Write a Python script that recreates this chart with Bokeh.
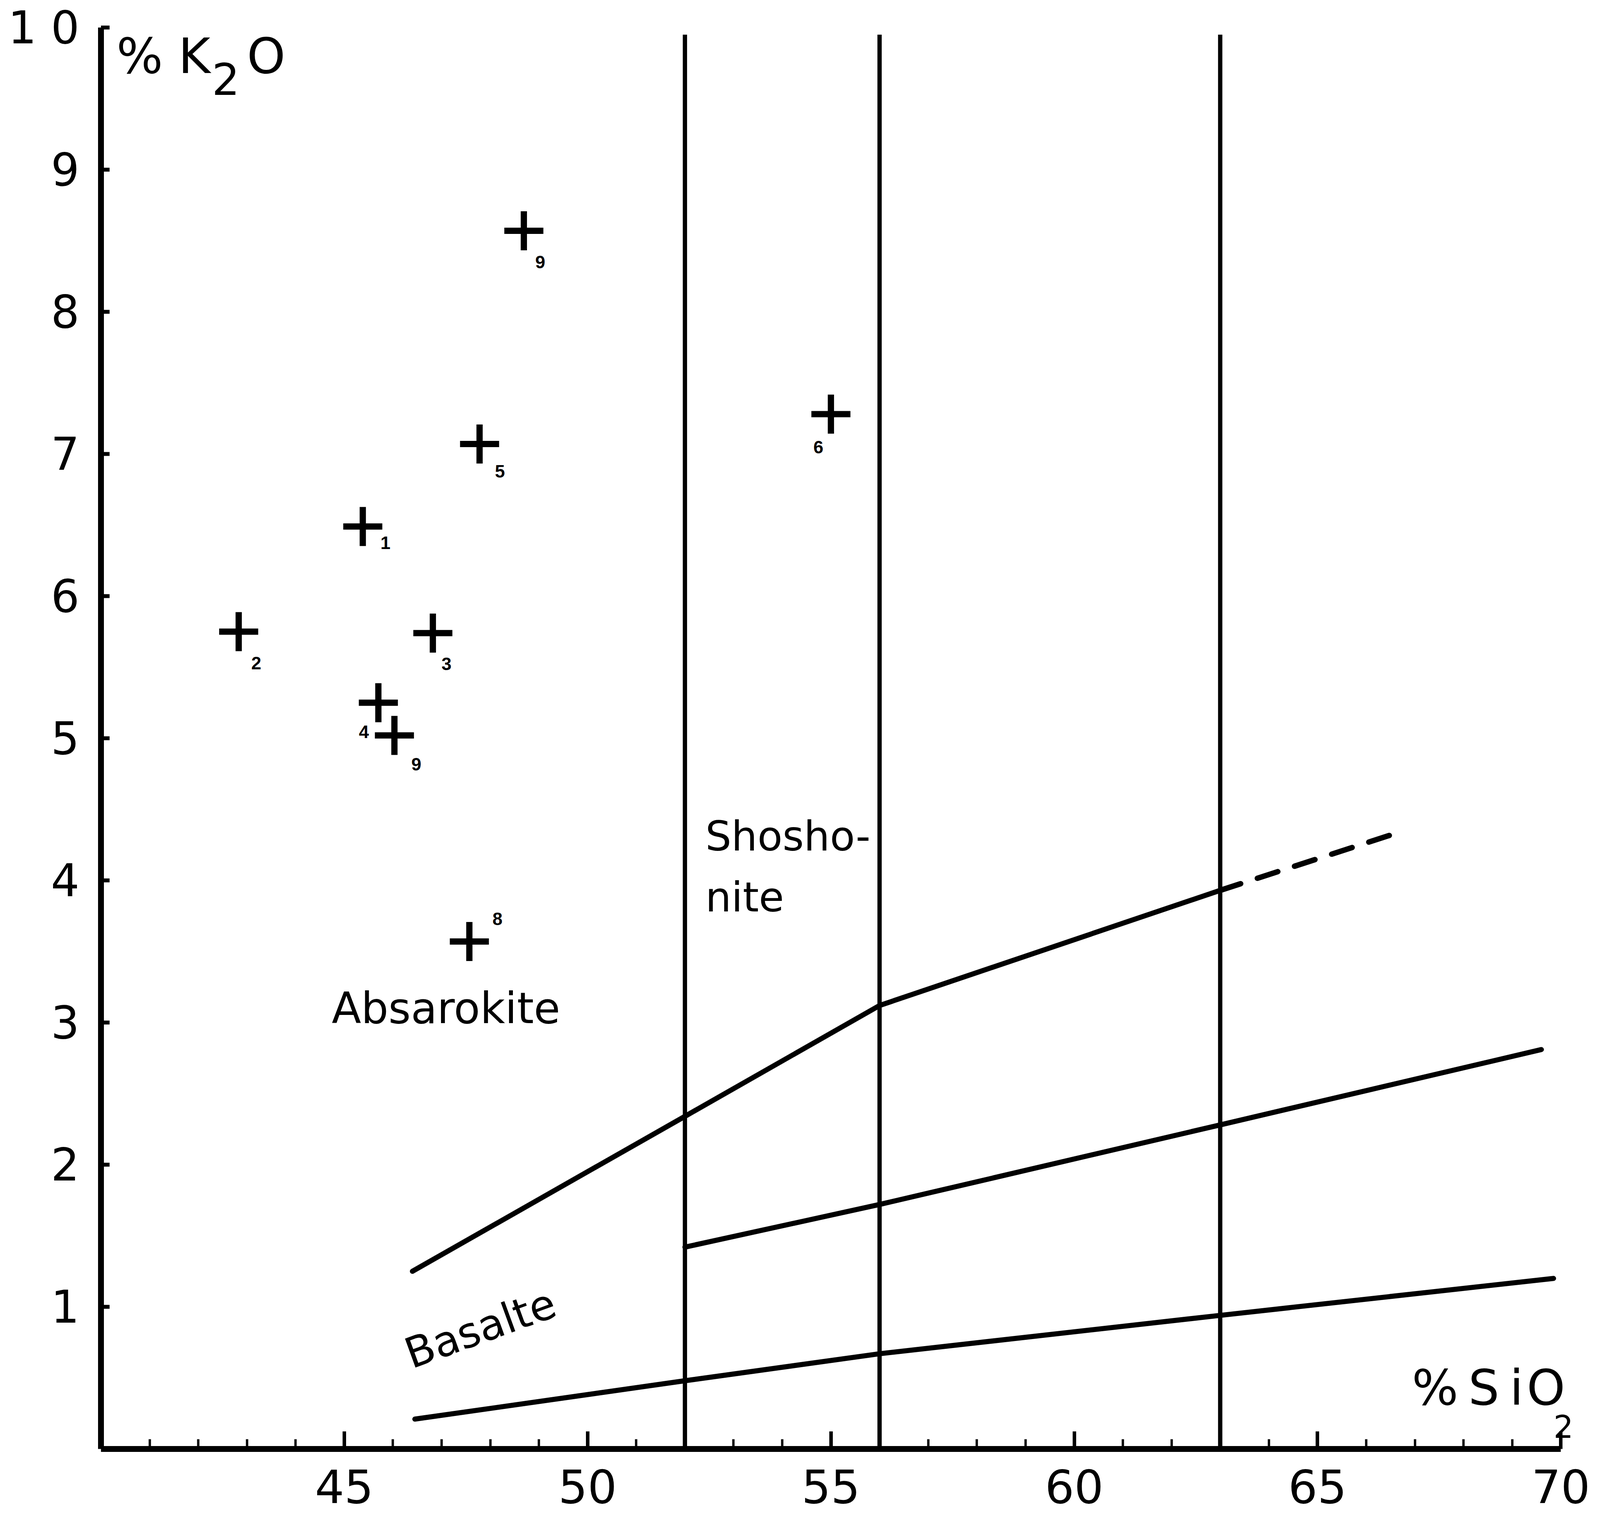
from bokeh.plotting import figure
from bokeh.models import Range1d, FixedTicker, Label, ColumnDataSource
from bokeh.embed import file_html
from bokeh.resources import INLINE
from math import pi

# ---------------- data ----------------
x_ticks = [45, 50, 55, 60, 65, 70]
x_minor = [41, 42, 43, 44, 46, 47, 48, 49, 51, 52, 53, 54, 56, 57, 58, 59,
           61, 62, 63, 64, 66, 67, 68, 69]
y_ticks = [1, 2, 3, 4, 5, 6, 7, 8, 9, 10]

point_labels = ["1", "2", "3", "4", "5", "6", "8", "9", "9"]
point_sio2 = [45.38, 42.83, 46.82, 45.70, 47.78, 55.00, 47.57, 46.03, 48.69]
point_k2o = [6.49, 5.75, 5.74, 5.25, 7.07, 7.28, 3.57, 5.02, 8.57]

# boundary lines of the diagram
upper_sio2 = [46.4, 52.0, 56.0, 63.0]
upper_k2o = [1.25, 2.34, 3.12, 3.93]
upper_dash_sio2 = [63.0, 66.6]
upper_dash_k2o = [3.93, 4.33]
middle_sio2 = [52.0, 56.0, 63.0, 69.6]
middle_k2o = [1.42, 1.72, 2.28, 2.81]
lower_sio2 = [46.45, 52.0, 56.0, 63.0, 69.85]
lower_k2o = [0.21, 0.48, 0.67, 0.94, 1.20]
vertical_sio2 = [52.0, 56.0, 63.0]
vertical_top = 9.95

# label offsets of the sample numbers (screen px, styling)
label_dx = [58, 45, 35, -37, 52, -32, 72, 56, 42]
label_dy = [42, 80, 79, 74, 70, 84, -58, 74, 80]

FONT = "DejaVu Sans"

p = figure(width=4080, height=3900,
           x_range=Range1d(40, 70.6), y_range=Range1d(0, 10),
           output_backend="svg", toolbar_location=None,
           min_border_left=258, min_border_right=10,
           min_border_top=70, min_border_bottom=190)
p.background_fill_color = "white"
p.border_fill_color = "white"
p.outline_line_color = None
p.xgrid.visible = False
p.ygrid.visible = False

# x axis (line stops at 70 like the original)
p.xaxis.bounds = (40, 70)
p.xaxis.ticker = FixedTicker(ticks=x_ticks, minor_ticks=x_minor)
p.xaxis.axis_line_width = 15
p.xaxis.axis_line_color = "black"
p.xaxis.major_tick_in = 45
p.xaxis.major_tick_out = 0
p.xaxis.minor_tick_in = 25
p.xaxis.minor_tick_out = 0
p.xaxis.major_tick_line_width = 9
p.xaxis.minor_tick_line_width = 6
p.xaxis.major_label_text_font = FONT
p.xaxis.major_label_text_font_size = "118px"
p.xaxis.major_label_text_color = "black"
p.xaxis.major_label_standoff = 52

# y axis
p.yaxis.ticker = FixedTicker(ticks=y_ticks, minor_ticks=[])
p.yaxis.major_label_overrides = {10: "1 0"}
p.yaxis.axis_line_width = 15
p.yaxis.axis_line_color = "black"
p.yaxis.major_tick_in = 22
p.yaxis.major_tick_out = 0
p.yaxis.minor_tick_in = 0
p.yaxis.minor_tick_out = 0
p.yaxis.major_tick_line_width = 10
p.yaxis.major_label_text_font = FONT
p.yaxis.major_label_text_font_size = "115px"
p.yaxis.major_label_text_color = "black"
p.yaxis.major_label_standoff = 55

# vertical boundaries
p.segment(x0=vertical_sio2, y0=[0] * len(vertical_sio2),
          x1=vertical_sio2, y1=[vertical_top] * len(vertical_sio2),
          line_color="black", line_width=11)

# boundary curves
for xs, ys in [(upper_sio2, upper_k2o), (middle_sio2, middle_k2o), (lower_sio2, lower_k2o)]:
    p.line(xs, ys, line_color="black", line_width=13, line_join="round", line_cap="round")
p.line(upper_dash_sio2, upper_dash_k2o, line_color="black", line_width=14,
       line_dash="55 45", line_cap="round")

# samples
src = ColumnDataSource(dict(x=point_sio2, y=point_k2o, t=point_labels,
                            dx=label_dx, dy=label_dy))
p.scatter("x", "y", source=src, marker="cross", size=100,
          line_color="black", line_width=16)
p.text(x="x", y="y", text="t", source=src, x_offset="dx", y_offset="dy",
       text_align="center", text_baseline="middle",
       text_font_size="46px", text_font_style="bold", text_color="black")


def lab(x, y, t, size, angle=0.0, align="left", baseline="middle"):
    p.add_layout(Label(x=x, y=y, text=t, text_font=FONT, text_font_size=size,
                       text_color="black", angle=angle, text_align=align,
                       text_baseline=baseline))


# field names
lab(47.09, 3.10, "Absarokite", "110px", align="center")
lab(52.42, 4.31, "Shosho-", "105px")
lab(52.42, 3.88, "nite", "105px")
lab(46.28, 0.66, "Basalte", "108px", angle=20 * pi / 180, baseline="alphabetic")

# axis titles
lab(40.32, 9.80, "%", "125px")
lab(41.59, 9.80, "K", "125px")
lab(42.28, 9.64, "2", "112px")
lab(43.00, 9.80, "O", "125px")

lab(66.94, 0.43, "%", "125px")
lab(68.10, 0.43, "S", "125px")
lab(68.95, 0.43, "i", "125px")
lab(69.30, 0.43, "O", "125px")
lab(69.85, 0.16, "2", "80px")

open("out.html", "w").write(file_html(p, INLINE))
